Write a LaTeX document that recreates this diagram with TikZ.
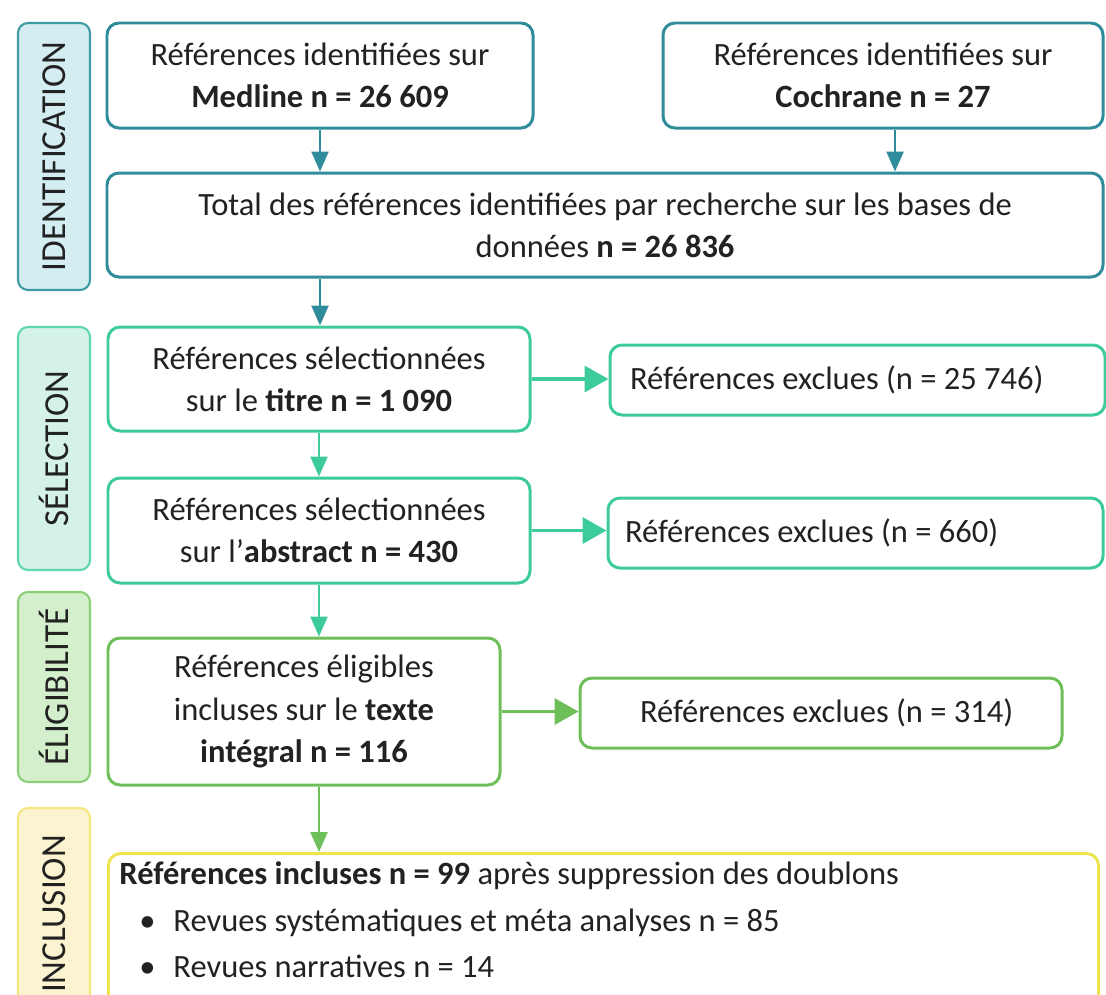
\documentclass[tikz,border=0pt]{standalone}
\usepackage{fontspec}
\setmainfont{Carlito}
\usetikzlibrary{arrows.meta}

\definecolor{texte}{HTML}{222222}
\definecolor{idcol}{HTML}{2F8C9B}
\definecolor{selcol}{HTML}{3DCB9E}
\definecolor{eligcol}{HTML}{6EBE5A}
\definecolor{inclcol}{HTML}{EEE450}
\definecolor{idfond}{HTML}{D3EDF1}
\definecolor{selfond}{HTML}{D4F3E6}
\definecolor{eligfond}{HTML}{D3EFCB}
\definecolor{inclfond}{HTML}{FCF4D0}
\definecolor{idbord}{HTML}{3E9AA3}
\definecolor{selbord}{HTML}{5ED6AE}
\definecolor{eligbord}{HTML}{8ACF78}
\definecolor{inclbord}{HTML}{F5E67E}

\tikzset{
  boite/.style={draw, rounded corners=0.24cm, line width=1.7pt, fill=white, text=texte,
    font=\fontsize{18.5}{24}\selectfont, align=center, inner sep=0pt},
  exclue/.style={boite, align=flush left, minimum height=1.40cm},
  bande/.style={draw, rounded corners=0.2cm, line width=1.2pt, rotate=90,
    minimum height=1.44cm, inner sep=0pt, text=texte, font=\fontsize{20}{24}\selectfont},
  fleche/.style={line width=1.4pt, -{Triangle[length=0.4cm, width=0.34cm]}},
  grossefleche/.style={line width=2pt, -{Triangle[length=0.48cm, width=0.52cm]}},
}

\begin{document}
\begin{tikzpicture}
    \useasboundingbox (0,0) rectangle (22.12,-19.88);
    \clip (0,0) rectangle (22.12,-19.88);

    % Bandes des étapes
    \node[bande, draw=idbord, fill=idfond, minimum width=5.34cm] (bidentif) at (1.08,-3.13) {IDENTIFICATION};
    \node[bande, draw=selbord, fill=selfond, minimum width=4.86cm] (bselect) at (1.08,-8.97) {SÉLECTION};
    \node[bande, draw=eligbord, fill=eligfond, minimum width=3.80cm] (beligib) at (1.08,-13.74) {ÉLIGIBILITÉ};
    \node[bande, draw=inclbord, fill=inclfond, minimum width=4.24cm] (binclus) at (1.08,-18.28) {INCLUSION};

    % Identification
    \node[boite, draw=idcol, minimum width=8.52cm, minimum height=2.10cm] (medline) at (6.40,-1.51)
        {Références identifiées sur\\\textbf{Medline n = 26~609}};
    \node[boite, draw=idcol, minimum width=8.80cm, minimum height=2.10cm] (cochrane) at (17.66,-1.51)
        {Références identifiées sur\\\textbf{Cochrane n = 27}};
    \node[boite, draw=idcol, minimum width=19.92cm, minimum height=2.08cm] (total) at (12.10,-4.50)
        {Total des références identifiées par recherche sur les bases de\\données \textbf{n = 26~836}};

    % Sélection
    \node[boite, draw=selcol, minimum width=8.44cm, minimum height=2.08cm] (titre) at (6.38,-7.58)
        {Références sélectionnées\\sur le \textbf{titre n = 1~090}};
    \node[exclue, draw=selcol, text width=9.10cm, inner xsep=0.40cm] (exclu1) at (17.15,-7.60)
        {Références exclues (n = 25~746)};
    \node[boite, draw=selcol, minimum width=8.44cm, minimum height=2.10cm] (abstract) at (6.38,-10.61)
        {Références sélectionnées\\sur l’\textbf{abstract n = 430}};
    \node[exclue, draw=selcol, text width=9.22cm, inner xsep=0.34cm] (exclu2) at (17.11,-10.66)
        {Références exclues (n = 660)};

    % Éligibilité
    \node[boite, draw=eligcol, minimum width=7.84cm, minimum height=2.94cm] (integral) at (6.08,-14.23)
        {Références éligibles\\incluses sur le \textbf{texte}\\\textbf{intégral n = 116}};
    \node[exclue, draw=eligcol, text width=8.44cm, inner xsep=0.60cm] (exclu3) at (16.42,-14.26)
        {\hspace*{0.6cm}Références exclues (n = 314)};

    % Inclusion
    \node[boite, draw=inclcol, anchor=north west, align=flush left, text width=19.36cm,
          inner xsep=0.22cm, inner ysep=0.16cm, font=\fontsize{18.5}{26.6}\selectfont] (inclus) at (2.14,-17.04)
        {\textbf{Références incluses n = 99} après suppression des doublons\\
         \hspace*{0.4cm}\makebox[0.68cm][l]{\textbullet}Revues systématiques et méta analyses n = 85\\
         \hspace*{0.4cm}\makebox[0.68cm][l]{\textbullet}Revues narratives n = 14\rule[-1cm]{0pt}{1cm}};

    % Flèches
    \draw[fleche, idcol] (medline.south) -- (medline.south |- total.north);
    \draw[fleche, idcol] ([xshift=0.24cm]cochrane.south) -- ([xshift=0.24cm]cochrane.south |- total.north);
    \draw[fleche, idcol] (medline.south |- total.south) -- (medline.south |- titre.north);
    \draw[fleche, selcol] (titre.south) -- (abstract.north);
    \draw[fleche, selcol] (abstract.south) -- (abstract.south |- integral.north);
    \draw[fleche, eligcol] (abstract.south |- integral.south) -- (abstract.south |- inclus.north);
    \draw[grossefleche, selcol] (titre.east) -- (titre.east -| exclu1.west);
    \draw[grossefleche, selcol] (abstract.east) -- (abstract.east -| exclu2.west);
    \draw[grossefleche, eligcol] (integral.east) -- (integral.east -| exclu3.west);
\end{tikzpicture}
\end{document}
